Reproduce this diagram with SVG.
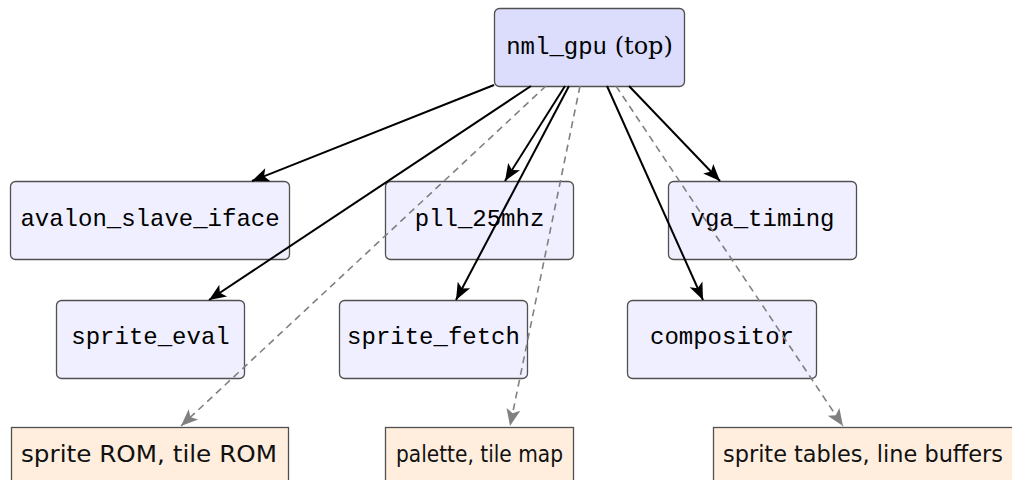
<svg xmlns="http://www.w3.org/2000/svg" width="1012" height="480" viewBox="0 0 1012 480">
  <defs>
    <style>
      .top { fill: #dcdcfc; stroke: #505050; stroke-width: 1.3; }
      .mod { fill: #efefff; stroke: #505050; stroke-width: 1.3; }
      .mem { fill: #ffeedd; stroke: #505050; stroke-width: 1.3; }
      .tt { font-family: "Liberation Mono", "DejaVu Sans Mono", monospace; font-size: 24px; fill: #000; text-anchor: middle; }
      .rm { font-family: "DejaVu Serif", "Liberation Serif", serif; }
      .sf { font-family: "DejaVu Sans", "Liberation Sans", sans-serif; font-size: 23px; fill: #111; }
      .inst { fill: none; stroke: #000; stroke-width: 2; }
      .uses { fill: none; stroke: #808080; stroke-width: 1.6; stroke-dasharray: 7 5; }
    </style>
    <marker id="arrowBlack" viewBox="-18 -8 19 16" refX="0" refY="0" markerWidth="19" markerHeight="16" markerUnits="userSpaceOnUse" orient="auto">
      <path d="M0,0 L-17,-7 L-13,0 L-17,7 Z" fill="#000"/>
    </marker>
    <marker id="arrowGray" viewBox="-18 -8 19 16" refX="0" refY="0" markerWidth="19" markerHeight="16" markerUnits="userSpaceOnUse" orient="auto">
      <path d="M0,0 L-17,-7 L-13,0 L-17,7 Z" fill="#808080"/>
    </marker>
  </defs>

  <!-- top-level module -->
  <g id="nml_gpu">
    <rect class="top" x="494.5" y="8.5" width="190" height="78" rx="5"/>
    <text class="tt" x="589.5" y="54">nml_gpu<tspan class="rm"> (top)</tspan></text>
  </g>

  <!-- submodules, first row -->
  <g id="avalon_slave_iface">
    <rect class="mod" x="10.5" y="181.5" width="279" height="78" rx="5"/>
    <text class="tt" x="150" y="226">avalon_slave_iface</text>
  </g>
  <g id="pll_25mhz">
    <rect class="mod" x="385.5" y="181.5" width="188" height="78" rx="5"/>
    <text class="tt" x="479.5" y="226">pll_25mhz</text>
  </g>
  <g id="vga_timing">
    <rect class="mod" x="668.5" y="181.5" width="188" height="78" rx="5"/>
    <text class="tt" x="762.5" y="226">vga_timing</text>
  </g>

  <!-- submodules, second row -->
  <g id="sprite_eval">
    <rect class="mod" x="56.5" y="300.5" width="188" height="78" rx="5"/>
    <text class="tt" x="150.5" y="344">sprite_eval</text>
  </g>
  <g id="sprite_fetch">
    <rect class="mod" x="339.5" y="300.5" width="188" height="78" rx="5"/>
    <text class="tt" x="433.5" y="344">sprite_fetch</text>
  </g>
  <g id="compositor">
    <rect class="mod" x="627.5" y="300.5" width="189" height="78" rx="5"/>
    <text class="tt" x="722" y="344">compositor</text>
  </g>

  <!-- memories -->
  <g id="mem_rom">
    <rect class="mem" x="11.5" y="427.5" width="277" height="70"/>
    <text class="sf" x="21" y="462" textLength="256" lengthAdjust="spacingAndGlyphs">sprite ROM, tile ROM</text>
  </g>
  <g id="mem_palette">
    <rect class="mem" x="385.5" y="427.5" width="188" height="70"/>
    <text class="sf" x="396" y="462" font-size="22" textLength="167" lengthAdjust="spacingAndGlyphs">palette, tile map</text>
  </g>
  <g id="mem_sprite">
    <rect class="mem" x="713.5" y="427.5" width="310" height="70"/>
    <text class="sf" x="723" y="462" textLength="280" lengthAdjust="spacingAndGlyphs">sprite tables, line buffers</text>
  </g>

  <!-- connectors -->
  <g id="connectors">
    <line class="inst" x1="494" y1="85" x2="252" y2="181" marker-end="url(#arrowBlack)"/>
    <line class="inst" x1="531" y1="86" x2="209" y2="300" marker-end="url(#arrowBlack)"/>
    <line class="inst" x1="565" y1="86" x2="505" y2="181" marker-end="url(#arrowBlack)"/>
    <line class="inst" x1="569" y1="86" x2="456" y2="300" marker-end="url(#arrowBlack)"/>
    <line class="inst" x1="607" y1="86" x2="703" y2="300" marker-end="url(#arrowBlack)"/>
    <line class="inst" x1="629" y1="86" x2="720" y2="181" marker-end="url(#arrowBlack)"/>
    <line class="uses" x1="546" y1="86" x2="181" y2="426" marker-end="url(#arrowGray)"/>
    <line class="uses" x1="580" y1="86" x2="510" y2="426" marker-end="url(#arrowGray)"/>
    <line class="uses" x1="616" y1="86" x2="843" y2="426" marker-end="url(#arrowGray)"/>
  </g>
</svg>
